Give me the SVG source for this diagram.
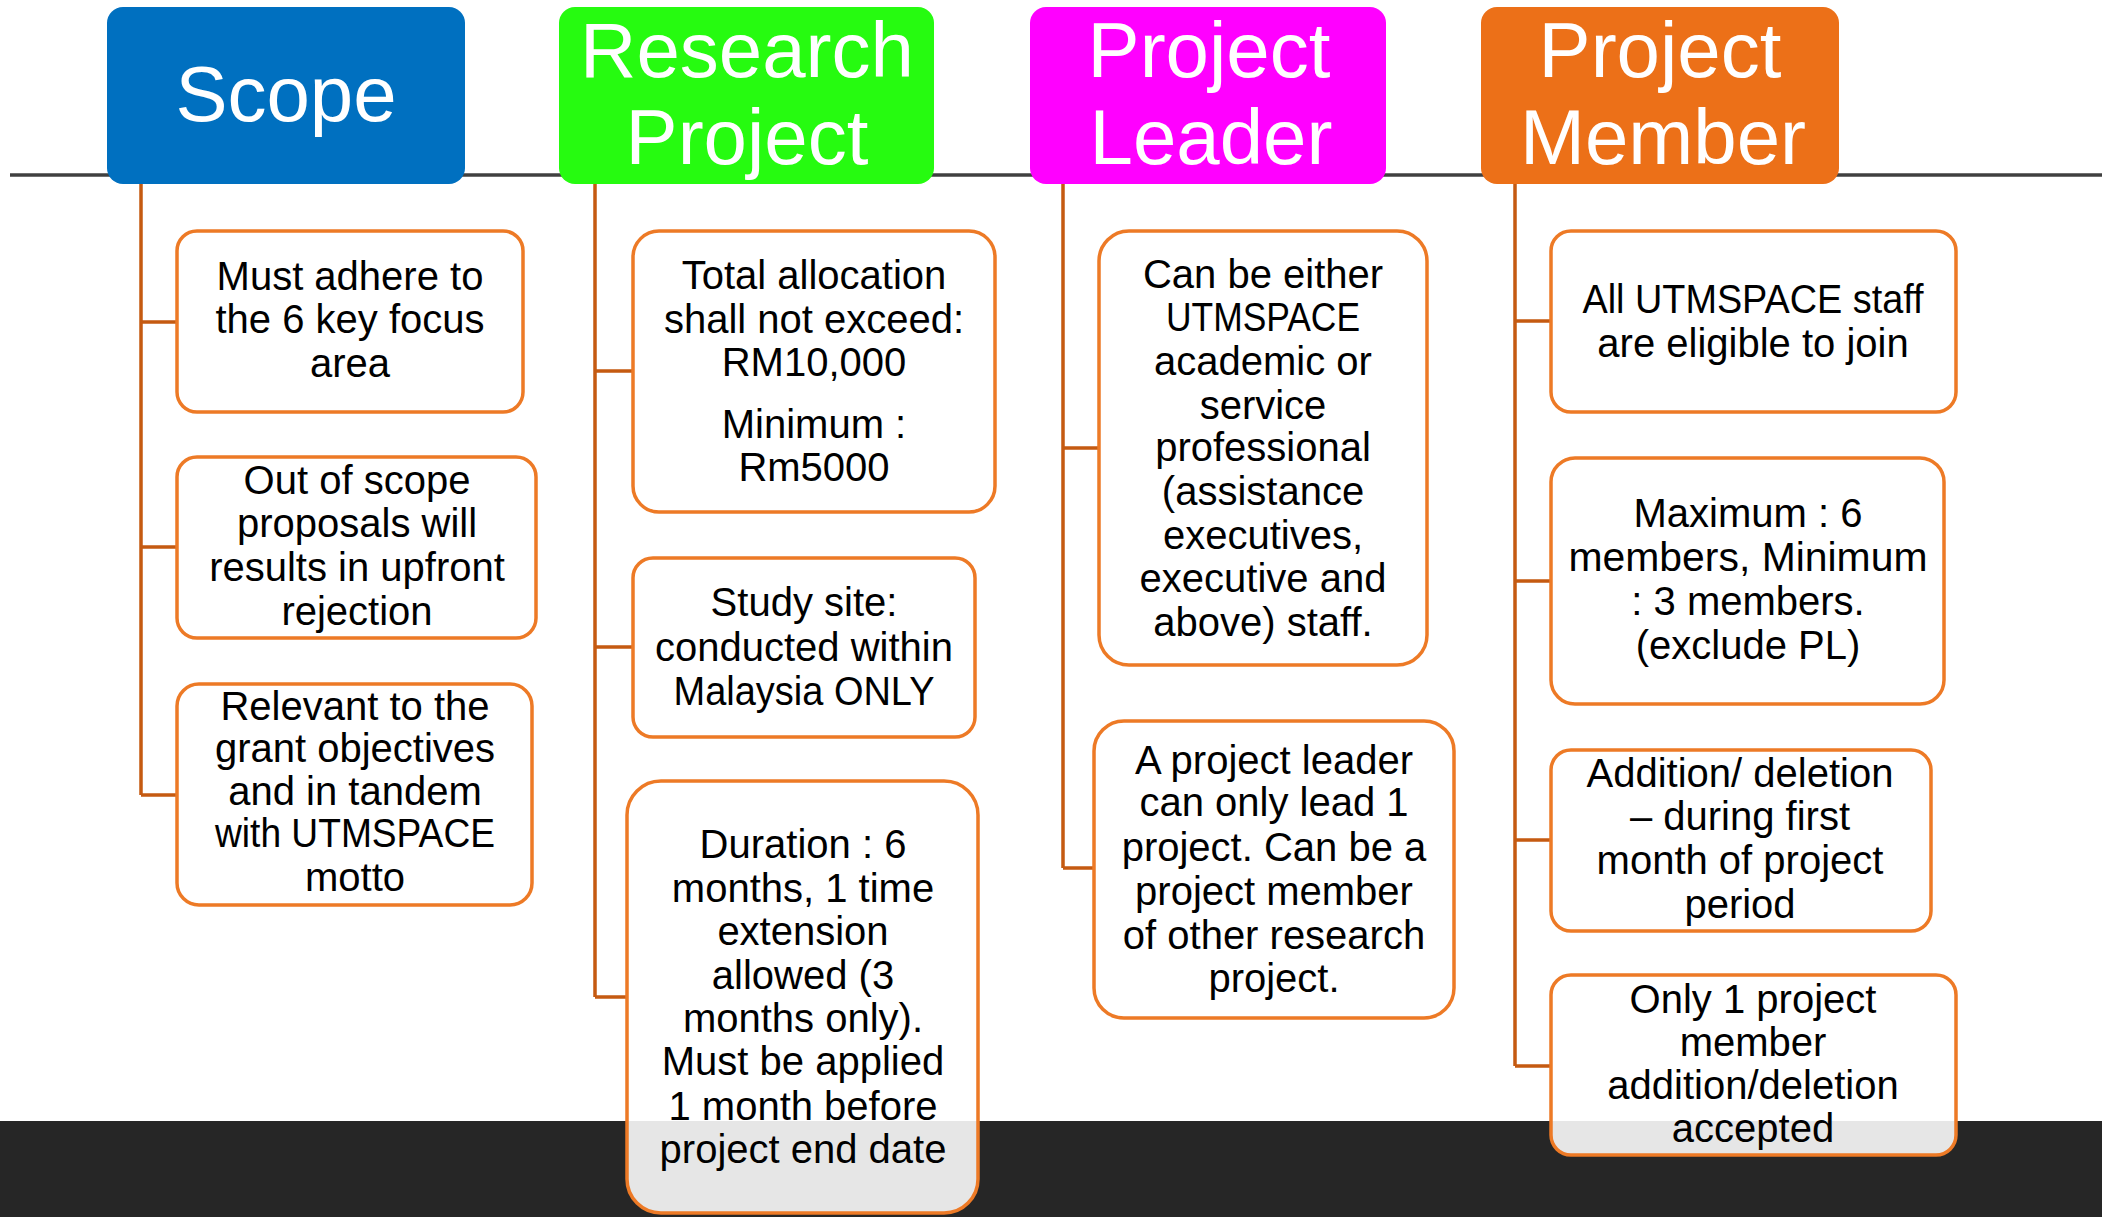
<svg xmlns="http://www.w3.org/2000/svg" width="2102" height="1217" viewBox="0 0 2102 1217">
<style>
.hd{font-family:"Liberation Sans",Arial,sans-serif;font-size:78px;fill:#ffffff;text-anchor:middle}
.bx{fill:#ffffff;fill-opacity:0.885;stroke:#ED7A26;stroke-width:3.5}
.tx{font-family:"Liberation Sans",Arial,sans-serif;font-size:40px;fill:#000000;text-anchor:middle}
.cn{fill:none;stroke:#C55A11;stroke-width:3.5}
</style>
<rect x="0" y="0" width="2102" height="1217" fill="#ffffff"/>
<rect id="footer-band" x="0" y="1121" width="2102" height="96" fill="#262626"/>
<line id="timeline" x1="10" y1="175" x2="2102" y2="175" stroke="#404040" stroke-width="3.5"/>

<g id="connectors">
<path class="cn" d="M141 184 V795 M141 322 H177 M141 547 H177 M141 795 H177"/>
<path class="cn" d="M595 184 V997 M595 371 H633 M595 647 H633 M595 997 H627"/>
<path class="cn" d="M1063 184 V868 M1063 448 H1099 M1063 868 H1094"/>
<path class="cn" d="M1515 184 V1066 M1515 321 H1551 M1515 581 H1551 M1515 840 H1551 M1515 1066 H1551"/>
</g>

<g id="h-scope">
<rect x="107" y="7" width="358" height="177" rx="16" fill="#0070C0"/>
<text class="hd" x="286" y="121" font-size="80">Scope</text>
</g>
<g id="h-research">
<rect x="559" y="7" width="375" height="177" rx="16" fill="#26FB10"/>
<text class="hd" x="747" y="77">Research</text>
<text class="hd" x="747" y="164">Project</text>
</g>
<g id="h-leader">
<rect x="1030" y="7" width="356" height="177" rx="16" fill="#FF00FF"/>
<text class="hd" x="1209" y="77">Project</text>
<text class="hd" x="1211" y="164">Leader</text>
</g>
<g id="h-member">
<rect x="1481" y="7" width="358" height="177" rx="16" fill="#EC7018"/>
<text class="hd" x="1660" y="77">Project</text>
<text class="hd" x="1663" y="164">Member</text>
</g>

<g id="s1">
<rect class="bx" x="177" y="231" width="346" height="181" rx="20"/>
<text class="tx"><tspan x="350" y="290">Must adhere to</tspan><tspan x="350" y="333">the 6 key focus</tspan><tspan x="350" y="377">area</tspan></text>
</g>
<g id="s2">
<rect class="bx" x="177" y="457" width="359" height="181" rx="20"/>
<text class="tx"><tspan x="357" y="494">Out of scope</tspan><tspan x="357" y="537">proposals will</tspan><tspan x="357" y="581">results in upfront</tspan><tspan x="357" y="625">rejection</tspan></text>
</g>
<g id="s3">
<rect class="bx" x="177" y="684" width="355" height="221" rx="22"/>
<text class="tx"><tspan x="355" y="720">Relevant to the</tspan><tspan x="355" y="762">grant objectives</tspan><tspan x="355" y="805">and in tandem</tspan><tspan x="355" y="847" textLength="280" lengthAdjust="spacingAndGlyphs">with UTMSPACE</tspan><tspan x="355" y="891">motto</tspan></text>
</g>

<g id="r1">
<rect class="bx" x="633" y="231" width="362" height="281" rx="26"/>
<text class="tx"><tspan x="814" y="289">Total allocation</tspan><tspan x="814" y="333">shall not exceed:</tspan><tspan x="814" y="376">RM10,000</tspan><tspan x="814" y="438">Minimum :</tspan><tspan x="814" y="481">Rm5000</tspan></text>
</g>
<g id="r2">
<rect class="bx" x="633" y="558" width="342" height="179" rx="20"/>
<text class="tx"><tspan x="804" y="616">Study site:</tspan><tspan x="804" y="661">conducted within</tspan><tspan x="804" y="705" textLength="261" lengthAdjust="spacingAndGlyphs">Malaysia ONLY</tspan></text>
</g>
<g id="r3">
<rect class="bx" x="627" y="781" width="351" height="432" rx="34"/>
<text class="tx"><tspan x="803" y="858">Duration : 6</tspan><tspan x="803" y="902">months, 1 time</tspan><tspan x="803" y="945">extension</tspan><tspan x="803" y="989">allowed (3</tspan><tspan x="803" y="1032">months only).</tspan><tspan x="803" y="1075">Must be applied</tspan><tspan x="803" y="1120">1 month before</tspan><tspan x="803" y="1163">project end date</tspan></text>
</g>

<g id="l1">
<rect class="bx" x="1099" y="231" width="328" height="434" rx="30"/>
<text class="tx"><tspan x="1263" y="288">Can be either</tspan><tspan x="1263" y="331" textLength="194" lengthAdjust="spacingAndGlyphs">UTMSPACE</tspan><tspan x="1263" y="375">academic or</tspan><tspan x="1263" y="419">service</tspan><tspan x="1263" y="461">professional</tspan><tspan x="1263" y="505">(assistance</tspan><tspan x="1263" y="549">executives,</tspan><tspan x="1263" y="592">executive and</tspan><tspan x="1263" y="636">above) staff.</tspan></text>
</g>
<g id="l2">
<rect class="bx" x="1094" y="721" width="360" height="297" rx="30"/>
<text class="tx"><tspan x="1274" y="774">A project leader</tspan><tspan x="1274" y="816">can only lead 1</tspan><tspan x="1274" y="861">project. Can be a</tspan><tspan x="1274" y="905">project member</tspan><tspan x="1274" y="949">of other research</tspan><tspan x="1274" y="992">project.</tspan></text>
</g>

<g id="m1">
<rect class="bx" x="1551" y="231" width="405" height="181" rx="20"/>
<text class="tx"><tspan x="1753" y="313" textLength="341" lengthAdjust="spacingAndGlyphs">All UTMSPACE staff</tspan><tspan x="1753" y="357">are eligible to join</tspan></text>
</g>
<g id="m2">
<rect class="bx" x="1551" y="458" width="393" height="246" rx="24"/>
<text class="tx"><tspan x="1748" y="527">Maximum : 6</tspan><tspan x="1748" y="571" textLength="359" lengthAdjust="spacingAndGlyphs">members, Minimum</tspan><tspan x="1748" y="615">: 3 members.</tspan><tspan x="1748" y="659">(exclude PL)</tspan></text>
</g>
<g id="m3">
<rect class="bx" x="1551" y="750" width="380" height="181" rx="20"/>
<text class="tx"><tspan x="1740" y="787">Addition/ deletion</tspan><tspan x="1740" y="830">– during first</tspan><tspan x="1740" y="874">month of project</tspan><tspan x="1740" y="918">period</tspan></text>
</g>
<g id="m4">
<rect class="bx" x="1551" y="975" width="405" height="180" rx="20"/>
<text class="tx"><tspan x="1753" y="1013">Only 1 project</tspan><tspan x="1753" y="1056">member</tspan><tspan x="1753" y="1099">addition/deletion</tspan><tspan x="1753" y="1142">accepted</tspan></text>
</g>
</svg>
